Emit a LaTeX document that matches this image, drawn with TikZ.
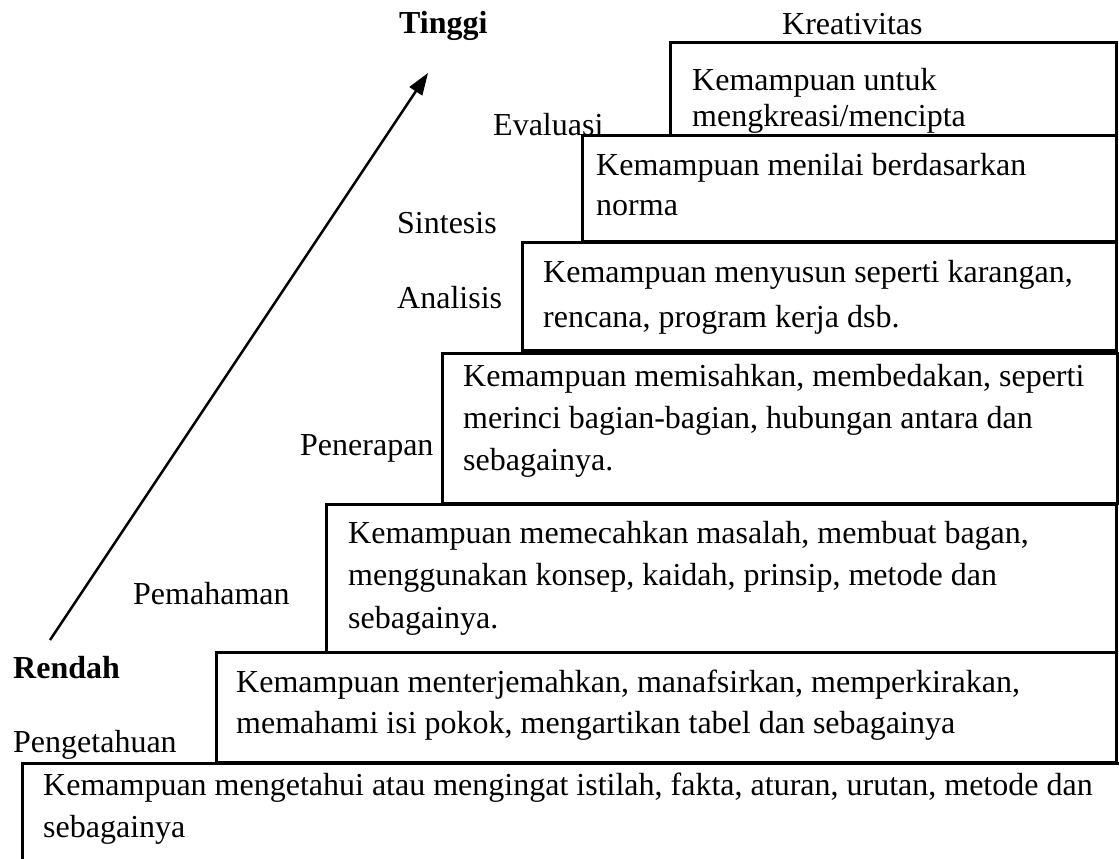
\documentclass[tikz,border=0pt]{standalone}
\usepackage{fontspec}
\setmainfont{Liberation Serif}
\usetikzlibrary{arrows.meta}
\newcommand\myst{\rule{0pt}{24pt}}
\begin{document}
\begin{tikzpicture}[x=1pt,y=-1pt,
  box/.style={line width=3pt},
  lbl/.style={anchor=base west, inner sep=0pt, font=\fontsize{32}{38}\selectfont},
  txt/.style={anchor=north west, inner sep=0pt, align=left, font=\fontsize{32}{#1}\selectfont},
  arr/.style={line width=2.5pt, -{Triangle[length=22pt,width=15pt]}}
]
\useasboundingbox (0,0) rectangle (1119,859);
\fill[white] (0,0) rectangle (1119,859);
% boxes
\draw[box] (670,43) rectangle (1116,135);
\draw[box] (582,135) rectangle (1116,241);
\draw[box] (522,242) rectangle (1116,350);
\draw[box] (442,353) rectangle (1117,503);
\draw[box] (326,504) rectangle (1116,652);
\draw[box] (216,652) rectangle (1116,762);
\draw[box] (1119,763) -- (22,763) -- (22,859);
% box texts
\node[txt=36] (t1) at (692,66) {\myst Kemampuan untuk\\mengkreasi/mencipta};
\node[txt=40] (t2) at (596,151) {\myst Kemampuan menilai berdasarkan\\norma};
\node[txt=45] (t3) at (543,258) {\myst Kemampuan menyusun seperti karangan,\\rencana, program kerja dsb.};
\node[txt=42] (t4) at (463,362) {\myst Kemampuan memisahkan, membedakan, seperti\\merinci bagian-bagian, hubungan antara dan\\sebagainya.};
\node[txt=42.5] (t5) at (348,519) {\myst Kemampuan memecahkan masalah, membuat bagan,\\menggunakan konsep, kaidah, prinsip, metode dan\\sebagainya.};
\node[txt=41] (t6) at (236,668) {\myst Kemampuan menterjemahkan, manafsirkan, memperkirakan,\\memahami isi pokok, mengartikan tabel dan sebagainya};
\node[txt=42] (t7) at (43,771) {\myst Kemampuan mengetahui atau mengingat istilah, fakta, aturan, urutan, metode dan\\sebagainya};
% labels
\node[lbl] (tinggi) at (399,34) {\bfseries Tinggi};
\node[lbl] (kreat) at (782,35) {Kreativitas};
\node[lbl] (eval) at (493,135) {Evaluasi};
\node[lbl] (sint) at (397,233) {Sintesis};
\node[lbl] (anal) at (397,308) {Analisis};
\node[lbl] (pener) at (300,455) {Penerapan};
\node[lbl] (pemah) at (133,604) {Pemahaman};
\node[lbl] (rendah) at (13,678) {\bfseries Rendah};
\node[lbl] (penget) at (13,752) {Pengetahuan};
% arrow
\coordinate (lo) at (50,640);
\coordinate (hi) at (428,73);
\draw[arr] (lo) -- (hi);
\end{tikzpicture}
\end{document}
